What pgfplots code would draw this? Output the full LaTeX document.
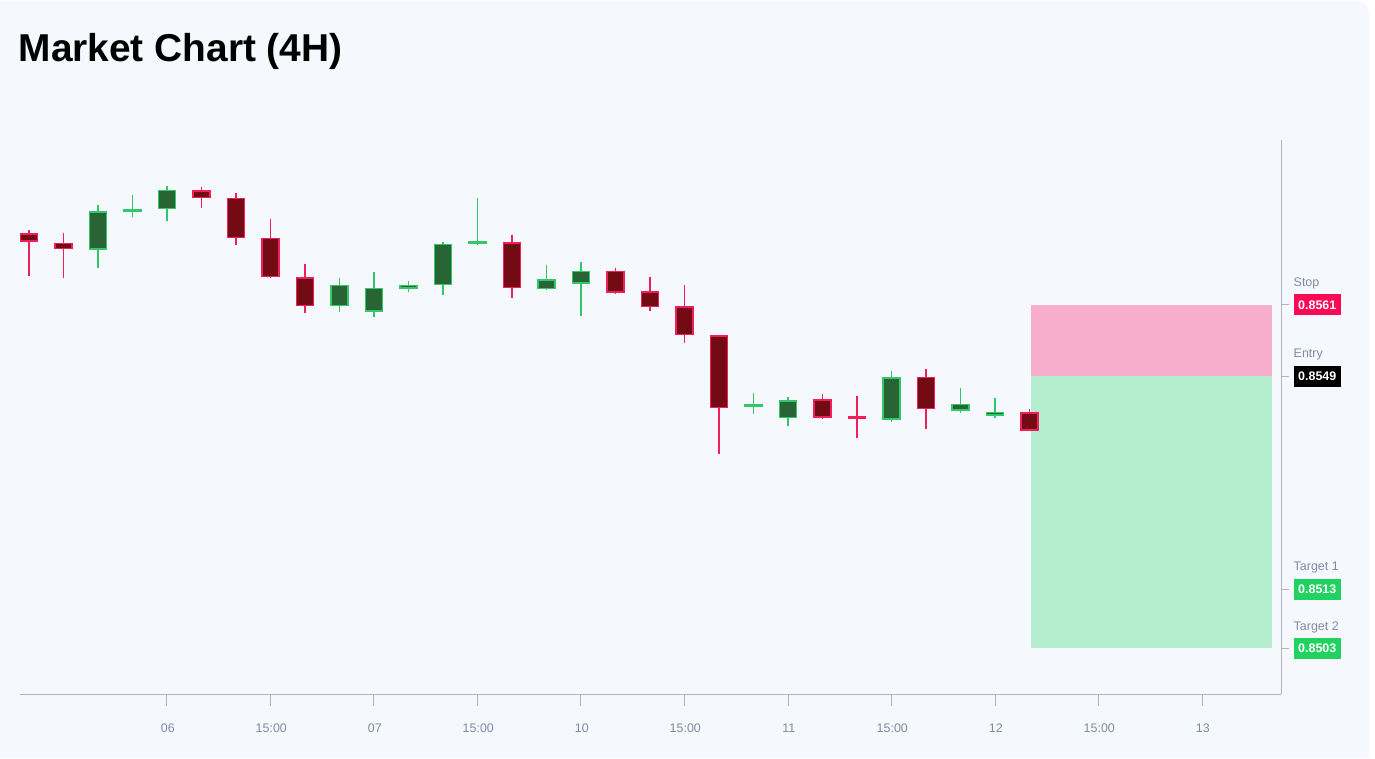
\documentclass[border=0pt]{standalone}
\usepackage{pgfplots}
\pgfplotsset{compat=1.18}
\usepackage{pgfplotstable}
\usepackage{fontspec}
\setmainfont{Liberation Sans}

\definecolor{cardbg}{RGB}{245,248,253}
\definecolor{axisgray}{RGB}{178,181,192}
\definecolor{tickgray}{RGB}{132,137,163}
\definecolor{bearfill}{RGB}{116,11,20}
\definecolor{bearedge}{RGB}{240,30,90}
\definecolor{bullfill}{RGB}{40,100,52}
\definecolor{bulledge}{RGB}{50,200,105}
\definecolor{stopred}{RGB}{250,10,85}
\definecolor{tgtgreen}{RGB}{34,210,96}
\definecolor{zonered}{RGB}{248,37,113}
\definecolor{zonegreen}{RGB}{59,219,119}

% 4H candles: index, open, high, low, close
\pgfplotstableread{
x  open    high    low     close
0  0.85731 0.85737 0.85659 0.85717
1  0.85716 0.85731 0.85655 0.85705
5  0.85805 0.85810 0.85774 0.85791
6  0.85793 0.85799 0.85711 0.85724
7  0.85724 0.85756 0.85655 0.85657
8  0.85658 0.85679 0.85597 0.85609
14 0.85716 0.85729 0.85621 0.85638
17 0.85668 0.85673 0.85629 0.85631
18 0.85634 0.85658 0.85599 0.85607
19 0.85608 0.85644 0.85545 0.85559
20 0.85559 0.85560 0.85358 0.85436
23 0.85451 0.85459 0.85417 0.85420
24 0.85421 0.85456 0.85386 0.85420
26 0.85489 0.85501 0.85400 0.85434
29 0.85429 0.85435 0.85398 0.85398
}\bear
\pgfplotstableread{
x  open    high    low     close
2  0.85705 0.85779 0.85672 0.85770
3  0.85770 0.85796 0.85759 0.85771
4  0.85772 0.85811 0.85752 0.85805
9  0.85608 0.85656 0.85598 0.85645
10 0.85599 0.85665 0.85589 0.85640
11 0.85638 0.85650 0.85632 0.85645
12 0.85644 0.85717 0.85626 0.85714
13 0.85714 0.85790 0.85711 0.85716
15 0.85637 0.85678 0.85635 0.85654
16 0.85647 0.85683 0.85592 0.85669
21 0.85440 0.85461 0.85426 0.85441
22 0.85419 0.85455 0.85406 0.85449
25 0.85417 0.85499 0.85413 0.85489
27 0.85431 0.85470 0.85427 0.85443
28 0.85423 0.85453 0.85419 0.85430
}\bull

% body height in bp = |open-close| * (axis height / y range)
\pgfdeclareplotmark{cbody}{%
  \begingroup
  \pgfkeys{/pgf/fpu=true,/pgf/fpu/output format=fixed}%
  \pgfmathparse{max(\bh,3)/2-0.75}%
  \xdef\hh{\pgfmathresult}%
  \endgroup
  \pgfpathrectanglecorners{\pgfpoint{-8.5bp}{-\hh bp}}{\pgfpoint{8.5bp}{\hh bp}}%
  \pgfusepathqfillstroke
}

\setlength\fboxsep{0pt}
\newcommand\tlab[3]{\rlap{\raisebox{22.7bp}[0pt][0pt]{\color{tickgray}#1}}\colorbox{#2}{\rule[-6bp]{0pt}{21bp}\hspace{4.5bp}{\color{white}\bfseries #3}\hspace{4.5bp}}}

\begin{document}
\begin{tikzpicture}[x=1bp,y=1bp]
\path[use as bounding box, fill=white] (0,0) rectangle (1375,758);
\fill[cardbg] (0,0) -- (1369,0) -- (1369,745) arc[start angle=0,end angle=90,radius=12] -- (0,757) -- cycle;
\node[anchor=base west, inner sep=0pt, font=\fontsize{39}{41}\selectfont\bfseries] at (18.5,696.3) {Market Chart (4H)};

\begin{axis}[
  at={(20bp,64bp)}, anchor=south west,
  scale only axis, width=1261bp, height=554bp,
  xmin=-0.26, xmax=36.29, ymin=0.849528, ymax=0.858887,
  axis x line*=bottom, axis y line*=right,
  axis line style={draw=axisgray, line width=1bp},
  tick align=outside,
  major tick length=8bp,
  xtick style={draw=axisgray, line width=1bp, /pgfplots/major tick length=12bp},
  ytick style={draw=axisgray, line width=1bp},
  xtick={4,7,10,13,16,19,22,25,28,31,34},
  xticklabels={06,15:00,07,15:00,10,15:00,11,15:00,12,15:00,13},
  xticklabel style={font=\fontsize{12.5}{14}\selectfont, text=tickgray, inner sep=0pt, anchor=north, yshift=-21.5bp, xshift=0.8bp},
  ytick={0.8503,0.8513,0.8549,0.8561},
  yticklabels={{\tlab{Target 2}{tgtgreen}{0.8503}},{\tlab{Target 1}{tgtgreen}{0.8513}},{\tlab{Entry}{black}{0.8549}},{\tlab{Stop}{stopred}{0.8561}}},
  yticklabel style={font=\fontsize{12.5}{14}\selectfont, inner sep=0pt, anchor=west, xshift=4.5bp},
  scaled y ticks=false,
]
% wicks
\addplot[draw=none, mark=none, forget plot, line width=1.8bp,
  error bars/.cd, y dir=minus, y explicit, error mark=none,
  error bar style={draw=bearedge, line width=1.8bp, solid}]
  table[x=x, y=high, y error minus expr=\thisrow{high}-\thisrow{low}] {\bear};
\addplot[draw=none, mark=none, forget plot, line width=1.8bp,
  error bars/.cd, y dir=minus, y explicit, error mark=none,
  error bar style={draw=bulledge, line width=1.8bp, solid}]
  table[x=x, y=high, y error minus expr=\thisrow{high}-\thisrow{low}] {\bull};
% bodies
\addplot[only marks, mark=cbody, forget plot,
  visualization depends on={abs(\thisrow{open}-\thisrow{close})*59193.3 \as \bh},
  mark options={fill=bearfill, draw=bearedge, line width=1.5bp, solid}]
  table[x=x, y expr=(\thisrow{open}+\thisrow{close})/2] {\bear};
\addplot[only marks, mark=cbody, forget plot,
  visualization depends on={abs(\thisrow{open}-\thisrow{close})*59193.3 \as \bh},
  mark options={fill=bullfill, draw=bulledge, line width=1.5bp, solid}]
  table[x=x, y expr=(\thisrow{open}+\thisrow{close})/2] {\bull};
% position zones
\addplot[draw=none, fill=zonered, fill opacity=0.35, forget plot]
  coordinates {(29.03,0.8549) (36.03,0.8549) (36.03,0.8561) (29.03,0.8561)} -- cycle;
\addplot[draw=none, fill=zonegreen, fill opacity=0.35, forget plot]
  coordinates {(29.03,0.8503) (36.03,0.8503) (36.03,0.8549) (29.03,0.8549)} -- cycle;
\end{axis}
\end{tikzpicture}
\end{document}
